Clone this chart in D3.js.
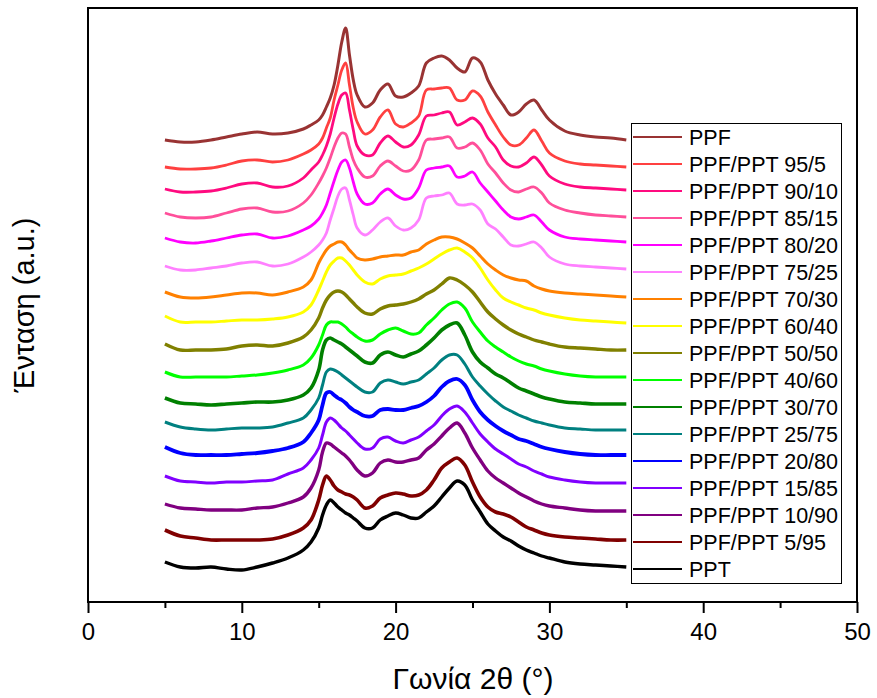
<!DOCTYPE html>
<html>
<head>
<meta charset="utf-8">
<script src="https://cdn.jsdelivr.net/npm/d3@7"></script>
<style>
  body { margin: 0; background: #fff; }
  text { font-family: "Liberation Sans", Arial, sans-serif; fill: #000; }
</style>
</head>
<body>
<svg id="chart" width="877" height="698"></svg>
<script>
// Diffraction angle grid (2θ, degrees) shared by every pattern
const angles = [5,6,7,8,9,10,11,12,13,14,14.5,15,15.25,15.5,15.75,16,16.25,16.5,16.75,17,17.25,17.5,
  18,18.5,19,19.5,20,20.5,21,21.5,22,22.5,23,23.5,24,24.5,25,25.5,26,26.5,27,27.5,28,28.5,29,29.5,30,
  31,32,33,34,35];

// Stacked intensities (a.u., vertical offsets included)
const ppf      = [462,460,460,462,465,468,470,468,469,473,477,482,487,495,504,517,537,560,574,547,522,507,495,499,512,518,506,505,509,516,539,544,546,542,534,530,544,540,522,508,497,487,490,498,502,492,482,471,467,465,464,462];
const ppf95_5  = [435,433,433,434,437,441,442,440,442,448,452,458,464,474,484,502,517,532,539,517,494,480,468,472,485,492,478,475,479,486,512,513,514,514,502,502,511,506,490,477,465,457,457,464,472,461,449,441,438,437,436,435];
const ppf90_10 = [413,410,410,411,414,418,419,415,416,424,432,440,447,456,468,484,498,507,509,492,472,456,447,447,459,466,460,455,457,467,486,487,489,490,477,480,484,478,464,455,442,436,435,439,445,437,426,418,415,414,413,412];
const ppf85_15 = [389,385,384,385,389,393,394,390,391,399,407,419,426,434,444,455,464,469,468,455,442,434,425,426,436,441,436,431,432,442,462,463,464,465,454,455,459,452,438,429,419,412,410,413,415,409,399,392,389,387,386,385];
const ppf80_20 = [364,360,359,361,364,367,368,364,366,372,376,383,389,397,409,421,432,440,442,434,420,408,398,399,408,413,407,403,404,414,432,434,435,436,425,426,430,419,410,401,392,385,383,385,387,380,372,365,363,362,361,360];
const ppf75_25 = [336,332,332,334,336,339,340,336,338,345,350,357,362,369,382,394,406,413,414,402,387,374,367,372,380,384,376,372,374,382,404,406,407,409,398,397,398,392,378,373,365,357,356,358,360,354,345,338,336,335,334,333];
const ppf70_30 = [310,305,304,305,307,309,309,307,310,315,322,339,346,352,356,358,360,360,357,352,348,344,342,343,345,346,347,347,350,352,358,362,365,365,363,359,354,346,338,332,327,324,322,321,316,313,311,309,308,307,306,305];
const ppf60_40 = [286,280,280,280,281,282,282,283,285,290,297,312,321,330,337,341,344,344,341,337,332,327,320,318,323,326,327,328,331,334,338,343,348,352,354,350,344,334,322,312,304,300,297,294,292,289,287,284,282,281,280,279];
const ppf50_50 = [258,252,252,252,253,256,257,256,259,265,272,284,294,302,307,310,311,310,307,303,299,295,289,288,293,296,297,298,300,303,308,312,318,324,322,317,310,300,290,283,277,272,268,265,262,260,258,255,254,253,252,252];
const ppf40_60 = [230,225,225,225,225,226,227,229,232,237,244,257,267,277,280,280,280,278,275,271,268,265,261,262,268,272,274,271,268,269,277,284,292,298,300,294,280,270,261,255,250,245,241,238,236,233,231,228,226,225,225,225];
const ppf30_70 = [204,199,198,197,198,199,200,200,202,207,214,232,252,262,264,262,260,258,255,252,249,246,240,239,247,250,247,245,248,251,257,264,272,277,279,267,250,240,234,228,224,219,214,211,208,205,203,200,199,198,198,198];
const ppf25_75 = [180,175,173,172,173,174,174,175,179,184,192,204,217,230,233,232,230,227,224,221,218,215,210,210,219,222,220,218,220,222,228,234,242,247,247,238,225,216,208,201,195,191,187,184,181,179,177,174,173,172,172,172];
const ppf20_80 = [155,149,147,147,147,148,149,151,154,160,169,182,197,209,210,207,204,202,199,195,192,190,186,186,192,193,192,192,194,196,200,206,215,221,223,217,202,190,182,176,171,167,163,161,158,155,153,150,148,147,147,147];
const ppf15_85 = [126,121,120,119,120,120,121,122,128,134,142,154,167,180,184,182,178,174,171,167,163,159,153,154,163,165,161,159,162,165,171,177,186,193,196,190,179,168,160,153,148,143,138,135,131,128,125,122,120,119,119,119];
const ppf10_90 = [98,94,93,92,92,92,94,95,99,105,114,132,150,159,158,155,152,149,146,142,137,132,126,129,139,142,140,140,142,144,152,158,166,174,179,169,154,142,131,124,119,114,109,105,101,98,96,94,92,91,91,91];
const ppf5_95  = [72,66,64,62,62,62,62,63,67,74,82,102,117,126,122,116,112,110,108,107,105,102,94,96,104,107,109,108,106,107,112,122,134,140,144,137,120,105,95,90,88,85,80,75,72,69,67,65,64,63,62,62];
const ppt      = [40,35,34,35,33,32,35,39,44,52,60,74,87,97,102,99,95,92,89,87,84,81,74,74,82,86,89,87,84,84,90,96,105,114,121,117,102,90,78,71,65,61,56,52,49,46,44,40,38,37,36,35];

const seriesNames = ["PPF","PPF/PPT 95/5","PPF/PPT 90/10","PPF/PPT 85/15","PPF/PPT 80/20","PPF/PPT 75/25",
  "PPF/PPT 70/30","PPF/PPT 60/40","PPF/PPT 50/50","PPF/PPT 40/60","PPF/PPT 30/70","PPF/PPT 25/75",
  "PPF/PPT 20/80","PPF/PPT 15/85","PPF/PPT 10/90","PPF/PPT 5/95","PPT"];
const seriesValues = [ppf,ppf95_5,ppf90_10,ppf85_15,ppf80_20,ppf75_25,ppf70_30,ppf60_40,ppf50_50,
  ppf40_60,ppf30_70,ppf25_75,ppf20_80,ppf15_85,ppf10_90,ppf5_95,ppt];
const seriesColors = ["#993333","#ff4040","#ff0a7f","#ff4f9a","#ff00ff","#ff80ff","#ff8000","#ffff00",
  "#808000","#00ff00","#008000","#008080","#0000ff","#8000ff","#800080","#800000","#000000"];
const seriesWidths = [3,2.8,2.8,2.8,2.8,2.8,3,3,3.4,3,3.6,3,3.8,3,3.4,3.6,3.4];

const xTicks = [0,10,20,30,40,50];
const xMinorTicks = [5,15,25,35,45];

const svg = d3.select("#chart");
const plot = { left: 88, right: 857, top: 8, bottom: 602 };

const x = d3.scaleLinear().domain([0, 50]).range([plot.left, plot.right]);
const y = d3.scaleLinear().domain([0, 594]).range([plot.bottom, plot.top]);

// Patterns, drawn from PPF down to PPT
const line = d3.line()
  .x((d, i) => x(angles[i]))
  .y(d => y(d))
  .curve(d3.curveCatmullRom.alpha(0.5));

svg.append("g").selectAll("path")
  .data(seriesValues)
  .join("path")
  .attr("d", d => line(d))
  .attr("fill", "none")
  .attr("stroke", (d, i) => seriesColors[i])
  .attr("stroke-width", (d, i) => seriesWidths[i])
  .attr("stroke-linejoin", "round");

// Frame
svg.append("rect")
  .attr("x", plot.left).attr("y", plot.top)
  .attr("width", plot.right - plot.left).attr("height", plot.bottom - plot.top)
  .attr("fill", "none").attr("stroke", "#000").attr("stroke-width", 2);

// Bottom axis: major and minor ticks
const axisMajor = d3.axisBottom(x).tickValues(xTicks).tickSize(11).tickPadding(10).tickFormat(d3.format("d"));
const gx = svg.append("g").attr("transform", `translate(0,${plot.bottom})`).call(axisMajor);
gx.select(".domain").remove();
gx.selectAll(".tick line").attr("stroke-width", 2);
gx.selectAll(".tick text").attr("font-size", 24).attr("font-family", "Liberation Sans, Arial, sans-serif");

const axisMinor = d3.axisBottom(x).tickValues(xMinorTicks).tickSize(6).tickFormat("");
const gxm = svg.append("g").attr("transform", `translate(0,${plot.bottom})`).call(axisMinor);
gxm.select(".domain").remove();
gxm.selectAll(".tick line").attr("stroke-width", 2);

// Axis titles
svg.append("text")
  .attr("x", 473).attr("y", 689)
  .attr("text-anchor", "middle").attr("font-size", 30)
  .text("Γωνία 2θ (°)");

svg.append("text")
  .attr("transform", `translate(34,${(plot.top + plot.bottom) / 2}) rotate(-90)`)
  .attr("text-anchor", "middle").attr("font-size", 29)
  .text("Ένταση (a.u.)");

// Legend
const legend = svg.append("g");
legend.append("rect")
  .attr("x", 631.5).attr("y", 123.5).attr("width", 210).attr("height", 460)
  .attr("fill", "#fff").attr("stroke", "#000").attr("stroke-width", 1);

const rows = legend.selectAll("g.row")
  .data(seriesNames)
  .join("g")
  .attr("class", "row")
  .attr("transform", (d, i) => `translate(0,${137 + i * 27})`);

rows.append("line")
  .attr("x1", 633).attr("x2", 682)
  .attr("stroke", (d, i) => seriesColors[i])
  .attr("stroke-width", 2);

rows.append("text")
  .attr("x", 689).attr("dy", "0.36em")
  .attr("font-size", 21.5)
  .text(d => d);
</script>
</body>
</html>
